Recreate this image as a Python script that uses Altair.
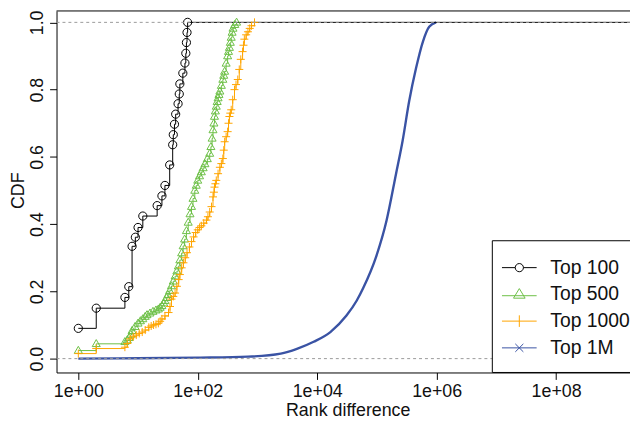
import altair as alt
import pandas as pd

FONT = "Liberation Sans"

names = ["Top 100", "Top 500", "Top 1000", "Top 1M"]
colors = ["#000000", "#6CBF46", "#FFA500", "#3A53A4"]

# ---- data ----
# x positions are read on the log axis (log10 of rank difference); cdf on the linear axis
top100_log = [0.0, 0.30, 0.78, 0.845, 0.90, 0.955, 1.0, 1.08, 1.32, 1.40, 1.45, 1.53, 1.58, 1.59, 1.61,
              1.63, 1.67, 1.69, 1.70, 1.75, 1.785, 1.80, 1.81, 1.82, 1.83]
top100_cdf = [0.090, 0.150, 0.182, 0.214, 0.334, 0.361, 0.390, 0.424, 0.455, 0.484, 0.515, 0.576, 0.636,
              0.666, 0.697, 0.727, 0.758, 0.787, 0.817, 0.849, 0.879, 0.908, 0.940, 0.970, 1.0]

top500_log = [0.00, 0.30, 0.78, 0.82, 0.85, 0.88, 0.90, 0.95, 1.00, 1.04, 1.08, 1.12, 1.15, 1.20, 1.25,
              1.30, 1.34, 1.37, 1.40, 1.43, 1.45, 1.48, 1.50, 1.53, 1.56, 1.59, 1.62, 1.65, 1.675, 1.70,
              1.73, 1.755, 1.78, 1.81, 1.84, 1.87, 1.895, 1.92, 1.95, 1.975, 2.00, 2.03, 2.06, 2.09, 2.12,
              2.16, 2.20, 2.22, 2.24, 2.255, 2.27, 2.28, 2.295, 2.31, 2.325, 2.34, 2.355, 2.37, 2.395,
              2.42, 2.435, 2.45, 2.475, 2.50, 2.515, 2.53, 2.545, 2.56, 2.575, 2.59, 2.62, 2.65]
top500_cdf = [0.024, 0.044, 0.050, 0.055, 0.062, 0.072, 0.083, 0.095, 0.105, 0.112, 0.118, 0.125, 0.130,
              0.135, 0.140, 0.144, 0.147, 0.152, 0.157, 0.165, 0.172, 0.181, 0.190, 0.202, 0.216, 0.230,
              0.245, 0.260, 0.275, 0.293, 0.314, 0.335, 0.355, 0.380, 0.405, 0.430, 0.452, 0.476, 0.500,
              0.515, 0.530, 0.543, 0.555, 0.567, 0.579, 0.594, 0.610, 0.630, 0.655, 0.680, 0.700, 0.720,
              0.736, 0.750, 0.764, 0.775, 0.785, 0.795, 0.812, 0.830, 0.842, 0.854, 0.878, 0.900, 0.913,
              0.925, 0.940, 0.955, 0.970, 0.982, 0.993, 1.0]

top1000_log = [0.00, 0.30, 0.78, 0.82, 0.87, 0.92, 0.97, 1.02, 1.07, 1.12, 1.18, 1.22, 1.26, 1.30, 1.34,
               1.37, 1.40, 1.45, 1.51, 1.535, 1.56, 1.59, 1.62, 1.65, 1.68, 1.70, 1.73, 1.76, 1.79, 1.82,
               1.86, 1.895, 1.93, 1.965, 2.00, 2.03, 2.06, 2.10, 2.145, 2.17, 2.20, 2.23, 2.255, 2.27,
               2.28, 2.295, 2.31, 2.34, 2.37, 2.395, 2.42, 2.435, 2.45, 2.475, 2.50, 2.515, 2.53, 2.545,
               2.56, 2.585, 2.615, 2.64, 2.67, 2.695, 2.72, 2.75, 2.765, 2.78, 2.81, 2.84, 2.87, 2.90, 2.95]
top1000_cdf = [0.015, 0.030, 0.034, 0.045, 0.059, 0.065, 0.070, 0.075, 0.079, 0.085, 0.093, 0.097, 0.100,
               0.102, 0.105, 0.111, 0.118, 0.127, 0.137, 0.155, 0.177, 0.185, 0.195, 0.215, 0.235, 0.250,
               0.270, 0.285, 0.300, 0.315, 0.332, 0.348, 0.362, 0.375, 0.383, 0.390, 0.395, 0.403, 0.412,
               0.422, 0.436, 0.452, 0.481, 0.495, 0.510, 0.520, 0.530, 0.550, 0.569, 0.580, 0.595, 0.620,
               0.645, 0.660, 0.675, 0.700, 0.720, 0.730, 0.740, 0.770, 0.800, 0.815, 0.830, 0.860, 0.890,
               0.913, 0.932, 0.950, 0.963, 0.972, 0.982, 0.990, 1.0]

top1m_log = [0.0, 1.0, 2.0, 2.84, 3.39, 3.66, 3.94, 4.22, 4.49, 4.66, 4.77, 4.99, 5.16, 5.32, 5.43, 5.54,
             5.655, 5.77, 5.875, 5.99]
top1m_cdf = [0.0, 0.001, 0.003, 0.006, 0.015, 0.029, 0.050, 0.079, 0.128, 0.172, 0.210, 0.305, 0.410,
             0.550, 0.648, 0.766, 0.864, 0.943, 0.987, 1.0]

x_ticks = [1, 100, 10000, 1000000, 100000000]
y_ticks = [0.0, 0.2, 0.4, 0.6, 0.8, 1.0]
ref_levels = [0.0, 1.0]

# ---- layout ----
W, H = 579, 365
X_MIN, X_MAX = 10 ** -0.3648, 10 ** 9.237
Y_MIN, Y_MAX = -0.0412, 1.0339

# plot markers (unit box -1..1 scaled by sqrt(size)/2, size 81 -> 4.5 px per unit)
circle_p = "M0.92,0A0.92,0.92 0 1,1 -0.92,0A0.92,0.92 0 1,1 0.92,0Z"
tri_p = "M0,-0.95L0.9,0.62L-0.9,0.62Z"
plus_p = "M-0.9,0L0.9,0M0,-0.9L0,0.9"
# legend symbols: line with a marker
L = 3.89
leg_circle = "M0.92,0A0.92,0.92 0 1,1 -0.92,0A0.92,0.92 0 1,1 0.92,0Z"
leg_tri = "M0,-1.3L1.3,0.85L-1.3,0.85Z"
leg_plus = "M0,-1.3L0,1.3"
leg_cross = "M-0.9,-0.9L0.9,0.9M-0.9,0.9L0.9,-0.9"
legend_paths = [
    f"M-{L},0L-0.92,0M0.92,0L{L},0" + leg_circle,
    f"M-{L},0.3L{L},0.3" + leg_tri,
    f"M-{L},0L{L},0" + leg_plus,
    f"M-{L},0L{L},0" + leg_cross,
]
marker_paths = [circle_p, tri_p, plus_p, None]

xenc = alt.X(
    "x:Q",
    scale=alt.Scale(type="log", domain=[X_MIN, X_MAX], nice=False),
    axis=alt.Axis(
        values=x_ticks,
        labelExpr="'1e+' + (round(log(datum.value)/LN10) < 10 ? '0' : '') + round(log(datum.value)/LN10)",
        title="Rank difference",
        titleX=294, titleY=43, titleBaseline="alphabetic", titleAnchor="start", titleAlign="center",
        grid=False, labelFlush=False, labelOverlap=False,
        tickSize=7, labelPadding=3,
    ),
)
yenc = alt.Y(
    "cdf:Q",
    scale=alt.Scale(domain=[Y_MIN, Y_MAX], nice=False, zero=False),
    axis=alt.Axis(
        values=y_ticks, format=".1f", title="CDF",
        labelAngle=-90, labelAlign="center", labelBaseline="alphabetic",
        titleAngle=270, titleX=-33, titleY=181, titleBaseline="alphabetic", titleAlign="center",
        grid=False, tickSize=7, labelPadding=7,
    ),
)

series = [
    (top100_log, top100_cdf),
    (top500_log, top500_cdf),
    (top1000_log, top1000_cdf),
    (top1m_log, top1m_cdf),
]

line_layers = []
for i, (lg, ys) in enumerate(series):
    xs = [10 ** v for v in lg]
    ys = list(ys)
    if names[i] == "Top 100":          # the ECDF continues at 1 to the right edge
        xs = xs + [X_MAX]
        ys = ys + [1.0]
    is_1m = names[i] == "Top 1M"
    line_layers.append(
        alt.Chart(pd.DataFrame({"x": xs, "cdf": ys})).mark_line(
            color=colors[i], strokeWidth=2.4 if is_1m else 1,
            interpolate="monotone" if is_1m else "step-after", clip=True,
        ).encode(x=xenc, y=yenc)
    )
# draw the 1M curve first, the Top 100 step line last
line_layers = [line_layers[3], line_layers[2], line_layers[1], line_layers[0]]

point_layers = []
for i, (lg, ys) in enumerate(series):
    if marker_paths[i] is None:
        continue
    df_pts = pd.DataFrame({"x": [10 ** v for v in lg], "cdf": ys})
    point_layers.append(
        alt.Chart(df_pts).mark_point(
            shape=marker_paths[i], size=81, color=colors[i], filled=False,
            strokeWidth=1, opacity=1, clip=True,
        ).encode(x=xenc, y=yenc)
    )

refs = alt.Chart(pd.DataFrame({"cdf": ref_levels})).mark_rule(
    color="#9a9a9a", strokeDash=[3, 3], strokeWidth=1
).encode(y=alt.Y("cdf:Q"), x=alt.value(0), x2=alt.value(W))

top_frame = alt.Chart(pd.DataFrame({"cdf": [1.0]})).mark_rule(color="#000000", strokeWidth=1).encode(
    x=alt.value(0), x2=alt.value(W), y=alt.value(0)
)

legend_box = alt.Chart(pd.DataFrame({"cdf": [0.0]})).mark_rect(
    fill="white", stroke="#000000", strokeWidth=1
).encode(x=alt.value(440), x2=alt.value(W + 10), y=alt.value(232), y2=alt.value(H))

leg = alt.Legend(
    orient="none", legendX=445, legendY=246, title=None, padding=0,
    clipHeight=26.3, rowPadding=0, symbolSize=81, symbolOffset=12.5,
    labelOffset=21.5, labelFontSize=19.5, labelFont=FONT, labelColor="#111111",
    symbolStrokeWidth=1, labelLimit=0, labelBaseline="middle",
)
legend_layer = alt.Chart(pd.DataFrame({"series": names})).transform_filter("false").mark_point(
    filled=False, opacity=1
).encode(
    color=alt.Color("series:N", scale=alt.Scale(domain=names, range=colors), legend=leg),
    shape=alt.Shape("series:N", scale=alt.Scale(domain=names, range=legend_paths), legend=leg),
)

chart = alt.layer(*line_layers, *point_layers, refs, top_frame, legend_box, legend_layer).properties(
    width=W, height=H,
    padding={"left": 49, "top": 1, "right": 0, "bottom": 47},
    autosize=alt.AutoSizeParams(type="none"),
    background="white",
).configure_view(stroke=None).configure_axis(
    labelFont=FONT, titleFont=FONT, labelFontSize=18, titleFontSize=18,
    labelColor="#111111", titleColor="#111111", titleFontWeight="normal",
    domainColor="#000000", tickColor="#000000", domainWidth=1, tickWidth=1,
)

chart.save("out.html", embed_options={"renderer": "svg", "actions": False})
